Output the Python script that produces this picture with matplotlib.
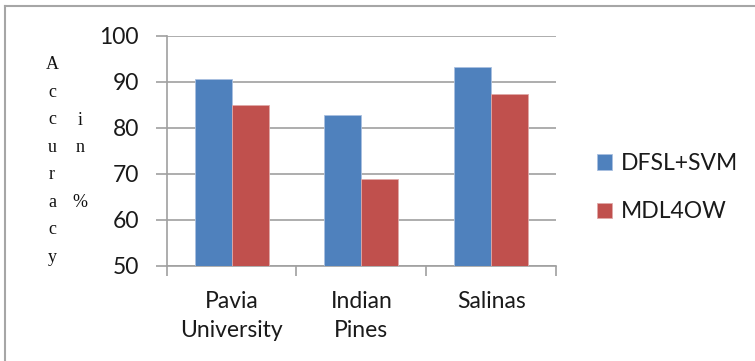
import matplotlib
matplotlib.use("Agg")
import matplotlib.pyplot as plt
import numpy as np
from matplotlib.lines import Line2D

categories = ["Pavia\nUniversity", "Indian\nPines", "Salinas"]
series_names = ["DFSL+SVM", "MDL4OW"]
dfsl_svm = [90.5, 82.8, 93.3]
mdl4ow = [84.9, 68.8, 87.3]
y_ticks = [50, 60, 70, 80, 90, 100]

W, H = 755, 361
fig = plt.figure(figsize=(W / 100, H / 100), dpi=100)

def fx(px):
    return px / W

def fy(py):
    return 1 - py / H

sans = ["Lato", "DejaVu Sans"]
fs = 16.5
grid_c = "#a0a0a0"
txt_c = "#1a1a1a"
blue = "#4F81BD"
red = "#C0504D"

ax = fig.add_axes([fx(166.7), fy(265.7), fx(556) - fx(166.7), fy(35.7) - fy(265.7)])

x = np.arange(len(categories))
bw = 1 / 3.5
ax.bar(x - bw / 2, dfsl_svm, width=bw, color=blue, edgecolor="#a9c0e0",
       linewidth=0.6, label=series_names[0], zorder=3)
ax.bar(x + bw / 2, mdl4ow, width=bw, color=red, edgecolor="#e0a9a8",
       linewidth=0.6, label=series_names[1], zorder=3)

ax.set_xlim(-0.5, len(categories) - 0.5)
ax.set_ylim(50, 100)
ax.set_yticks(y_ticks)
ax.set_yticklabels([str(v) for v in y_ticks], fontsize=fs, family=sans, color=txt_c)
ax.yaxis.grid(True, color=grid_c, linewidth=1.2, zorder=0)
ax.set_axisbelow(True)

# category labels centred under each group, boundary ticks between groups
ax.set_xticks(x)
ax.set_xticklabels(categories, fontsize=fs, family=sans, color=txt_c, linespacing=1.5)
ax.tick_params(axis="x", length=0, pad=18)
ax.set_xticks(np.arange(len(categories) + 1) - 0.5, minor=True)
ax.tick_params(axis="x", which="minor", length=7, width=1.2, color=grid_c, direction="out")
ax.tick_params(axis="y", length=8, width=1.2, color=grid_c, direction="out", pad=12)

for s in ["top", "right"]:
    ax.spines[s].set_visible(False)
for s in ["left", "bottom"]:
    ax.spines[s].set_color(grid_c)
    ax.spines[s].set_linewidth(1.2)

# stacked axis title
serif = ["Liberation Serif", "DejaVu Serif"]
fig.text(fx(52), fy(56), "A\nc\nc\nu\nr\na\nc\ny", family=serif,
         fontsize=13, ha="center", va="top", linespacing=1.81, color="#111111")
fig.text(fx(80), fy(111.8), "i\nn\n\n%", family=serif,
         fontsize=13, ha="center", va="top", linespacing=1.81, color="#111111")

leg = fig.legend(loc="upper left", bbox_to_anchor=(fx(597), fy(153)),
                 frameon=False, prop={"family": sans, "size": fs},
                 handlelength=0.66, handleheight=0.66, handletextpad=0.38,
                 labelspacing=1.19, borderpad=0, borderaxespad=0)
for t in leg.get_texts():
    t.set_color(txt_c)

# outer frame
fig.add_artist(Line2D([fx(5), 1], [fy(6), fy(6)], color="#a6a6a6", linewidth=1.5))
fig.add_artist(Line2D([fx(5), fx(5)], [fy(6), 0], color="#a6a6a6", linewidth=1.5))

fig.savefig("out.png", dpi=100)
